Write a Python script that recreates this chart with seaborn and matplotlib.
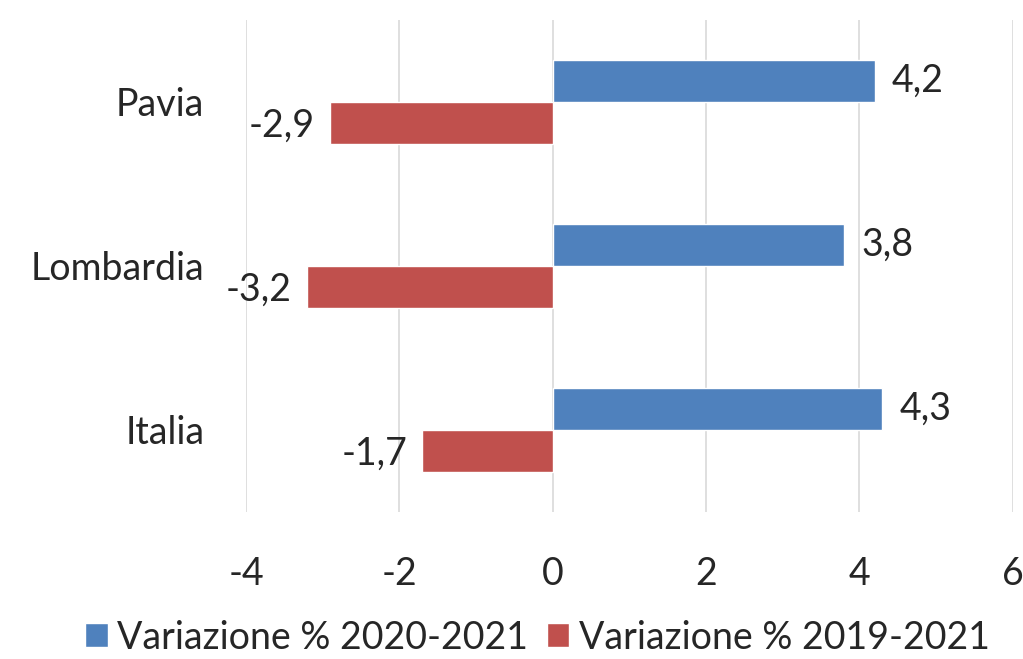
import matplotlib
matplotlib.use("Agg")
import matplotlib.pyplot as plt
import pandas as pd
import seaborn as sns

# Data.
places = ["Pavia", "Lombardia", "Italia"]
series_names = ["Variazione % 2020-2021", "Variazione % 2019-2021"]
var_2020_2021 = [4.2, 3.8, 4.3]
var_2019_2021 = [-2.9, -3.2, -1.7]
x_ticks = [-4, -2, 0, 2, 4, 6]

colors = ["#4F81BD", "#C0504D"]

sns.set_style("white")
plt.rcParams["font.family"] = ["Lato", "DejaVu Sans"]

df = pd.DataFrame(
    {
        "place": places * 2,
        "series": [series_names[0]] * 3 + [series_names[1]] * 3,
        "value": var_2020_2021 + var_2019_2021,
    }
)

fig = plt.figure(figsize=(10.23, 6.59), dpi=100)
ax = fig.add_axes([0.2405, 0.223, 0.7495, 0.747])

sns.barplot(
    data=df,
    x="value",
    y="place",
    hue="series",
    order=places,
    hue_order=series_names,
    palette=colors,
    width=0.51,
    saturation=1,
    ax=ax,
)

fs = 27
ax.set_xlim(-4, 6)
ax.set_xticks(x_ticks)
ax.set_xticklabels([str(t) for t in x_ticks])
ax.xaxis.grid(True, color="#D9D9D9", linewidth=1.2)
ax.set_axisbelow(True)
for s in ax.spines.values():
    s.set_visible(False)
ax.set_xlabel("")
ax.set_ylabel("")
ax.tick_params(axis="x", labelsize=fs, length=0, pad=32)
ax.tick_params(axis="y", labelsize=fs, length=0, pad=30)

# Data labels with decimal comma.
for cont in ax.containers:
    for bar in cont:
        w = bar.get_width()
        yc = bar.get_y() + bar.get_height() / 2
        txt = f"{w:.1f}".replace(".", ",")
        if w >= 0:
            ax.text(w + 0.22, yc, txt, ha="left", va="center", fontsize=fs)
        else:
            ax.text(w - 0.2, yc + 0.02, txt, ha="right", va="center", fontsize=fs)

ax.legend(
    loc="lower center",
    bbox_to_anchor=(0.38, -0.36),
    ncol=2,
    frameon=False,
    fontsize=fs,
    handlelength=0.6,
    handleheight=0.6,
    handletextpad=0.25,
    columnspacing=0.5,
)

fig.savefig("out.png", dpi=100)
